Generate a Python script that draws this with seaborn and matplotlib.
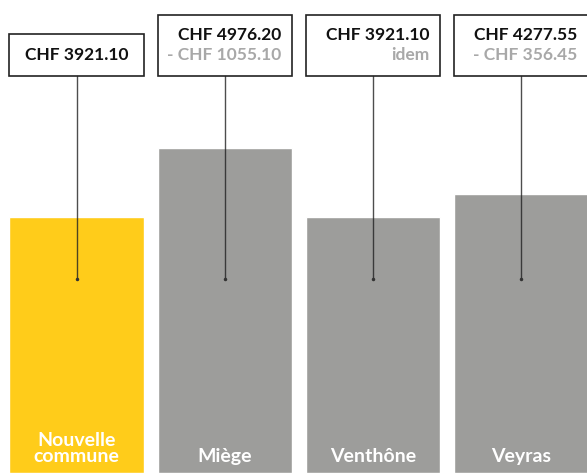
import matplotlib
matplotlib.use("Agg")
import matplotlib.pyplot as plt
import matplotlib.transforms as mtransforms
from matplotlib.patches import Rectangle
import seaborn as sns

# data
communes = ["Nouvelle\ncommune", "Miège", "Venthône", "Veyras"]
montants = [3921.10, 4976.20, 3921.10, 4277.55]
montant_labels = ["CHF 3921.10", "CHF 4976.20", "CHF 3921.10", "CHF 4277.55"]
diff_labels = [None, "- CHF 1055.10", "idem", "- CHF 356.45"]
couleurs = ["#FFCC1A", "#9D9D9B", "#9D9D9B", "#9D9D9B"]

sns.set_style("white")
plt.rcParams["font.family"] = ["Lato", "DejaVu Sans"]

W, H = 587, 473
fig = plt.figure(figsize=(W / 100, H / 100), dpi=100)
ax = fig.add_axes([0, 0, 1, 1])

bw = 0.905
sns.barplot(x=communes, y=montants, hue=communes, palette=couleurs,
            legend=False, width=bw, saturation=1, ax=ax)

step = 148.3
ax.set_xlim(-76.5 / step, (W - 76.5) / step)
ax.set_ylim(0, H / 256 * 3921.1)
ax.axis("off")

trans = mtransforms.blended_transform_factory(ax.transData, ax.transAxes)
fy = lambda px: 1 - px / H

for i, name in enumerate(communes):
    # bar label
    ax.text(i, fy(465), name, transform=trans, ha="center", va="bottom",
            color="white", fontsize=14, fontweight="bold", linespacing=0.95)
    # leader line with dot
    ax.plot([i, i], [fy(279), fy(76)], transform=trans, color="#222222",
            lw=1, alpha=0.8)
    ax.plot([i], [fy(279)], transform=trans, marker="o", ms=1.5,
            color="#333333")
    # box
    top = 34 if diff_labels[i] is None else 15
    x0 = i - bw / 2
    ax.add_patch(Rectangle((x0, fy(76)), bw, fy(top) - fy(76),
                           transform=trans, facecolor="white",
                           edgecolor="#222222", lw=1.2, clip_on=False))
    if diff_labels[i] is None:
        ax.text(i, fy(55), montant_labels[i], transform=trans, ha="center",
                va="center", fontsize=12.5, fontweight="bold", color="#111111")
    else:
        xr = i + bw / 2 - 11 / step
        ax.text(xr, fy(35), montant_labels[i], transform=trans, ha="right",
                va="center", fontsize=12.5, fontweight="bold", color="#111111")
        ax.text(xr, fy(55), diff_labels[i], transform=trans, ha="right",
                va="center", fontsize=12.5, fontweight="bold", color="#A8A8A8")

fig.savefig("out.png", dpi=100)
